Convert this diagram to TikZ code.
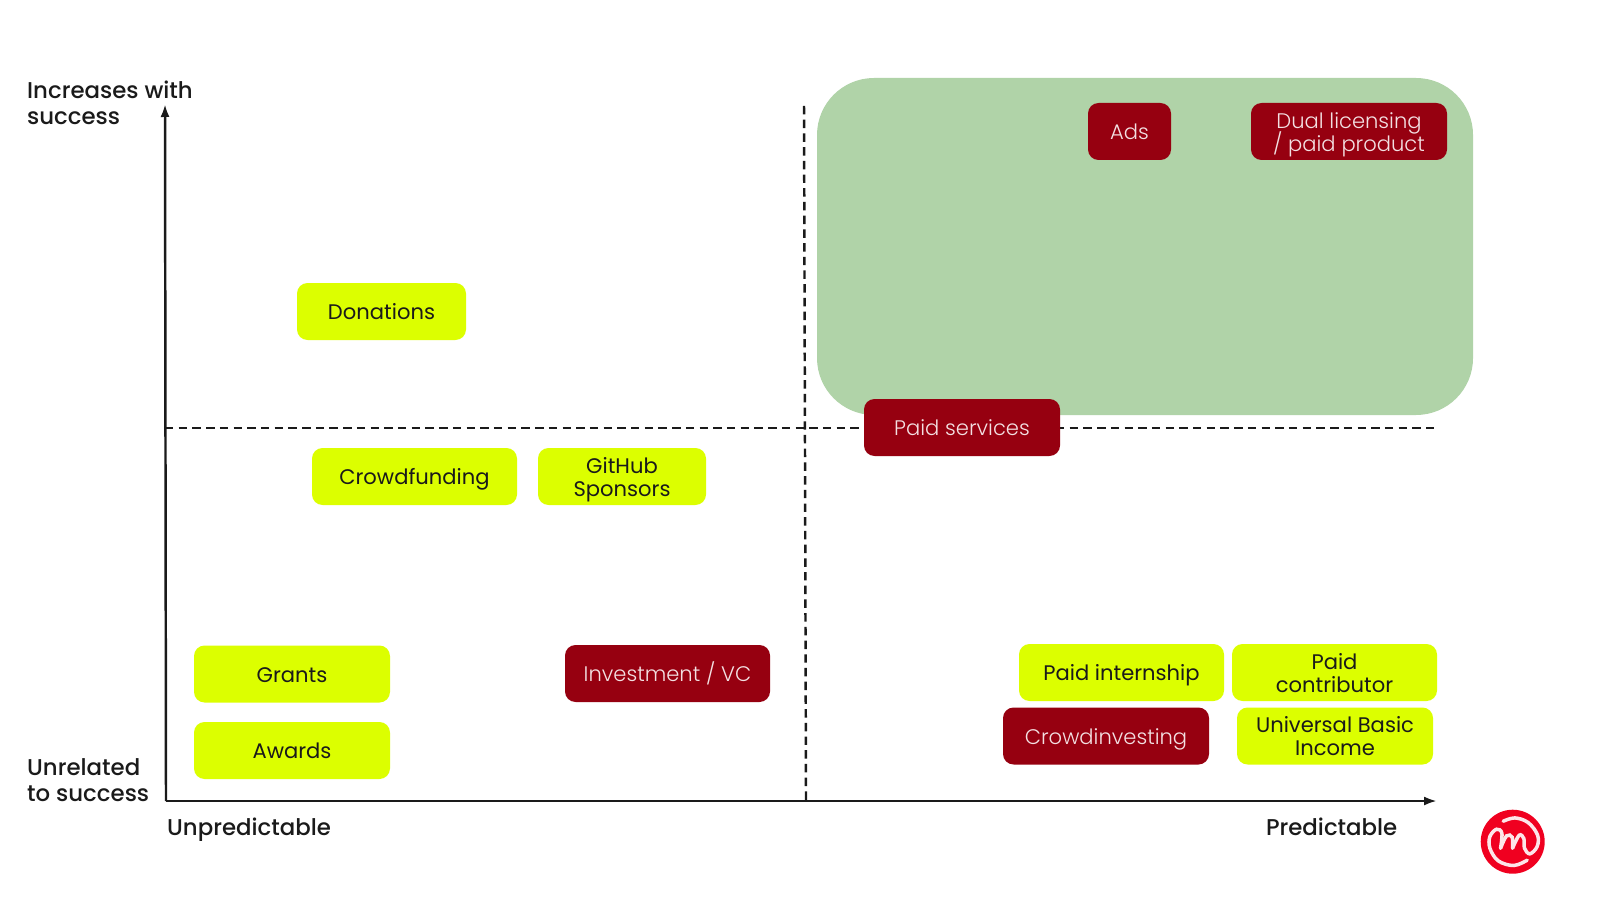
\documentclass[tikz,border=0pt]{standalone}
\usepackage{fontspec}
\setmainfont{Poppins}
\newfontfamily\labelfont{Poppins Medium}
\newfontfamily\thinfont{Poppins Light}
\usepackage{xcolor}
\usetikzlibrary{
arrows.meta,
positioning,
calc
}
\definecolor{FundLime}{HTML}{DCFF00}
\definecolor{FundRed}{HTML}{960010}
\definecolor{FundGreen}{HTML}{B0D3A8}
\definecolor{LogoRed}{HTML}{F00020}
\definecolor{AxisInk}{HTML}{1A1A1A}
\newcommand{\tightlines}{\lineskiplimit=-10pt\relax}
\newcommand{\fundline}[1]{\raisebox{-2.3pt}[0pt][0pt]{#1}}
\tikzset{
    fundbox/.style={
        rounded corners=3pt,
        minimum height=0.57cm,
        inner sep=0pt,
        align=center,
        text height=6.6pt,
        text depth=2pt,
        execute at begin node={\tightlines},
        font=\fontsize{6pt}{6.55pt}\selectfont
    },
    goodfund/.style={fundbox, fill=FundLime, text=AxisInk},
    badfund/.style={fundbox, fill=FundRed, text=white!88!FundRed, font=\thinfont\fontsize{6pt}{6.55pt}\selectfont},
    twolines/.style={text height=, text depth=},
    axislabel/.style={
        inner sep=0pt,
        align=left,
        text=AxisInk,
        execute at begin node={\tightlines},
        font=\labelfont\fontsize{6.5pt}{7.4pt}\selectfont
    },
    axisline/.style={line width=0.7pt, draw=AxisInk, -{Latex[length=1.3mm,width=0.9mm]}},
    splitline/.style={line width=0.7pt, draw=AxisInk, dash pattern=on 2.4pt off 1.5pt}
}

\begin{document}
\begin{tikzpicture}[
    x=1cm,
    y=1cm
]

\useasboundingbox (0,0) rectangle (16,9);
\fill[white] (0,0) rectangle (16,9);

% Target zone
\fill[
    FundGreen,
    rounded corners=0.57cm
]
(8.17,4.85) rectangle (14.73,8.22);

% =========================
% AXES
% =========================
\coordinate (origin) at (1.66,0.99);
\coordinate (yend) at (1.65,7.96);
\coordinate (xend) at (14.37,0.99);
\coordinate (hleft) at (1.65,4.72);
\coordinate (hright) at (14.35,4.72);
\coordinate (vtop) at (8.04,7.94);
\coordinate (vbottom) at (8.06,0.99);

\draw[splitline] (hleft) -- (hright);
\draw[splitline] (vtop) -- (vbottom);
\draw[axisline] (origin) -- (yend);
\draw[axisline] (origin) -- (xend);

% =========================
% AXIS LABELS
% =========================
\node[axislabel, anchor=base west] (incr) at (0.265,7.755) {Increases with\\success};
\node[axislabel, anchor=base west] (unrel) at (0.265,0.99) {Unrelated\\to success};
\node[axislabel, anchor=base west] (unpred) at (1.665,0.65) {Unpredictable};
\node[axislabel, anchor=base east] (pred) at (13.98,0.65) {Predictable};

% =========================
% LIME BOXES
% =========================
\node[goodfund, minimum width=1.69cm] (donations) at (3.815,5.885) {Donations};
\node[goodfund, minimum width=2.05cm] (crowdfunding) at (4.145,4.235) {Crowdfunding};
\node[goodfund, twolines, minimum width=1.68cm] (sponsors) at (6.22,4.235) {\fundline{GitHub}\\\fundline{Sponsors}};
\node[goodfund, minimum width=1.96cm] (grants) at (2.92,2.26) {Grants};
\node[goodfund, minimum width=1.96cm] (awards) at (2.92,1.495) {Awards};
\node[goodfund, minimum width=2.05cm] (internship) at (11.215,2.275) {Paid internship};
\node[goodfund, twolines, minimum width=2.05cm] (contributor) at (13.345,2.275) {\fundline{Paid}\\\fundline{contributor}};
\node[goodfund, twolines, minimum width=1.96cm] (income) at (13.35,1.64) {\fundline{Universal Basic}\\\fundline{Income}};

% =========================
% RED BOXES
% =========================
\node[badfund, minimum width=0.83cm] (ads) at (11.295,7.685) {Ads};
\node[badfund, twolines, minimum width=1.96cm] (dual) at (13.49,7.685) {\fundline{Dual licensing}\\\fundline{/ paid product}};
\node[badfund, minimum width=1.96cm] (services) at (9.62,4.725) {Paid services};
\node[badfund, minimum width=2.05cm] (investment) at (6.675,2.265) {Investment / VC};
\node[badfund, minimum width=2.06cm] (crowdinvesting) at (11.06,1.64) {Crowdinvesting};

% =========================
% LOGO
% =========================
\fill[LogoRed] (15.127,0.583) circle (0.32);
\begin{scope}[shift={(14.4,1.2)}, x=0.00333cm, y=-0.00333cm]
\draw[white!90!LogoRed, line width=1pt, line cap=round]
    plot[smooth, tension=0.6] coordinates {
        (262,241) (222,257) (175,243) (150,205) (150,170) (170,148)
        (186,160) (182,205)
    };
\draw[white!90!LogoRed, line width=1pt, line cap=round]
    plot[smooth, tension=0.6] coordinates {
        (182,205) (200,168) (217,172) (218,205)
    };
\draw[white!90!LogoRed, line width=1pt, line cap=round]
    plot[smooth, tension=0.6] coordinates {
        (218,205) (238,166) (252,176) (254,205) (270,222) (292,200)
        (293,165) (265,128) (225,114) (190,124)
    };
\end{scope}

\end{tikzpicture}
\end{document}
